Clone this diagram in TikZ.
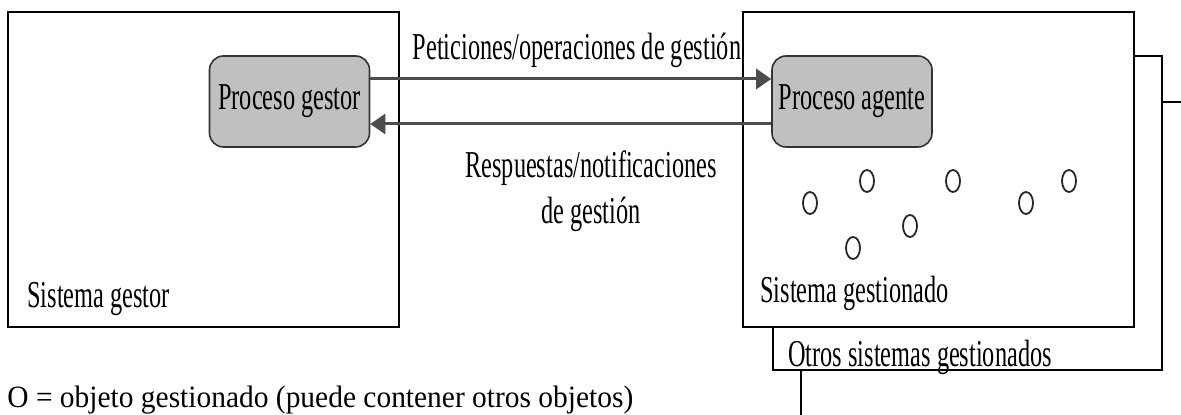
\documentclass[tikz,border=0pt]{standalone}
\usepackage{fontspec}
\setmainfont{Liberation Serif}
\newfontfamily\diagfont[FakeStretch=0.64]{Liberation Serif}
\newfontfamily\leyfont[FakeStretch=0.95]{Liberation Serif}
\usetikzlibrary{arrows.meta, positioning, calc}
\definecolor{procgray}{RGB}{192,192,192}

\begin{document}
\begin{tikzpicture}[
        x=0.5pt, y=-0.5pt,
        sistema/.style={rectangle, draw=black, line width=1pt, fill=white, minimum width=195.5pt, minimum height=157.5pt, inner sep=0pt},
        proceso/.style={rectangle, rounded corners=7pt, draw=black!80, line width=0.8pt, fill=procgray, minimum width=80pt, minimum height=45.5pt, inner sep=0pt, font=\diagfont\fontsize{19}{22}\selectfont},
        etiqueta/.style={inner sep=0pt, font=\diagfont\fontsize{19}{22}\selectfont, align=center},
        arrow/.style={-{Triangle[length=7.5pt, width=10pt]}, line width=1.5pt, draw=black!70},
        objeto/.style={line width=0.9pt, draw=black!85}
    ]
    \useasboundingbox (0,0) rectangle (1181,415);

    % sistemas
    \node[sistema, minimum width=194.5pt, minimum height=157pt] (otros) at (967.5,213) {};
    \node[sistema] (gestor) at (203.5,169.5) {};
    \node[sistema] (gestionado) at (938.5,169.5) {};

    \node[proceso] (gestorproc) at (289.5,101.5) {Proceso gestor};
    \node[proceso] (agente) at (852,101.5) {Proceso agente};

    \draw[arrow] ([yshift=11.25pt]gestorproc.east) -- ([yshift=11.25pt]agente.west);
    \draw[arrow] ([yshift=-11.25pt]agente.west) -- ([yshift=-11.25pt]gestorproc.east);

    \node[etiqueta, anchor=base] (peticiones) at (577,60) {Peticiones/operaciones de gestión};
    \node[etiqueta, anchor=north] (respuestas) at (591,150) {Respuestas/notificaciones\\[1pt]de gestión};

    \node[etiqueta, anchor=base west] (lblgestor) at (27,308) {Sistema gestor};
    \node[etiqueta, anchor=base west] (lblgestionado) at (760,303) {Sistema gestionado};
    \node[etiqueta, anchor=base west] (lblotros) at (788,367) {Otros sistemas gestionados};

    % objetos gestionados
    \foreach \cx/\cy in {810/203, 867/181, 953/181, 910/226, 853/248, 1026/203, 1069/181}
        \draw[objeto] (\cx,\cy) ellipse [x radius=7, y radius=11];

    \coordinate (stubfin) at (1181,102);
    \coordinate (otrosfin) at (801,415);
    \draw[line width=1pt] (otros.east |- stubfin) -- (stubfin);
    \draw[line width=1pt] (otros.south -| otrosfin) -- (otrosfin);

    \node[inner sep=0pt, anchor=base west, font=\leyfont\fontsize{15.5}{18}\selectfont] (leyenda) at (7,408) {O = objeto gestionado (puede contener otros objetos)};
\end{tikzpicture}
\end{document}
